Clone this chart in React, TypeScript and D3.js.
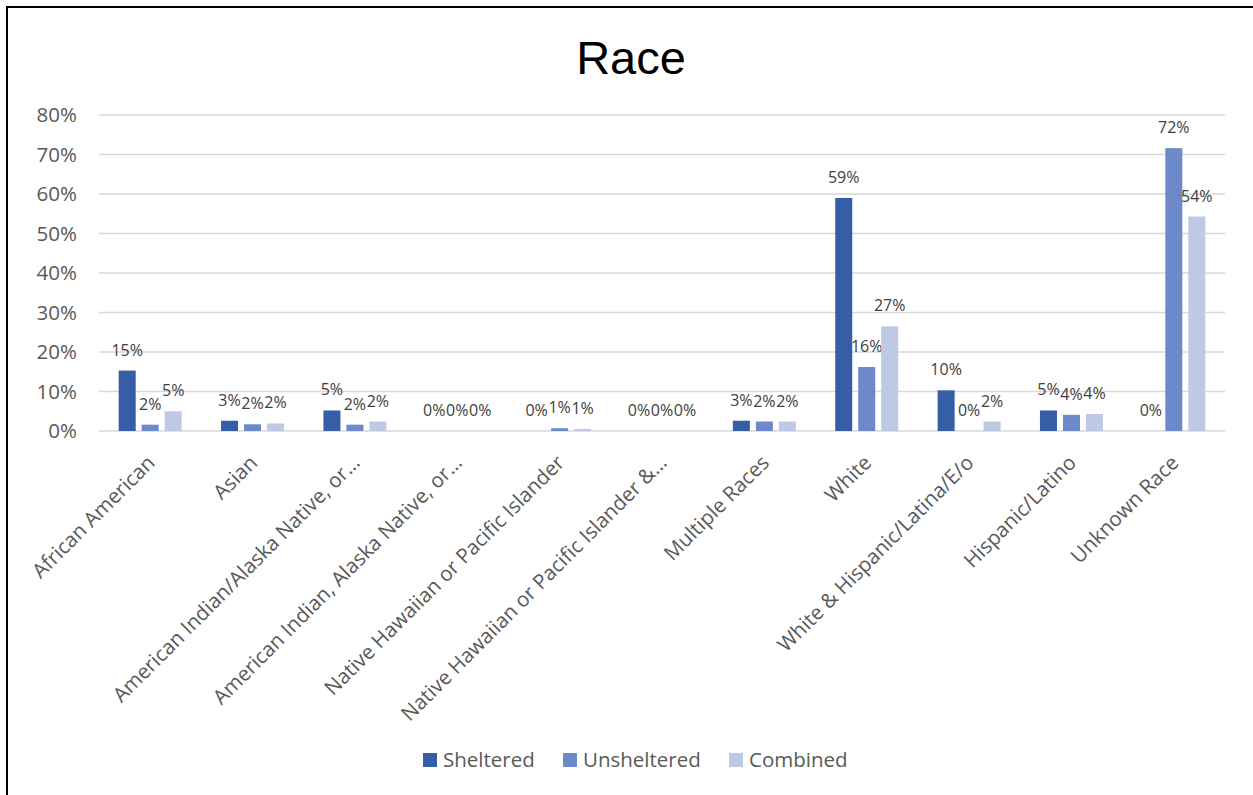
import React from "react";
import * as d3 from "d3";

const categories = [
  "African American",
  "Asian",
  "American Indian/Alaska Native, or…",
  "American Indian, Alaska Native, or…",
  "Native Hawaiian or Pacific Islander",
  "Native Hawaiian or Pacific Islander &…",
  "Multiple Races",
  "White",
  "White & Hispanic/Latina/E/o",
  "Hispanic/Latino",
  "Unknown Race",
];
const seriesNames = ["Sheltered", "Unsheltered", "Combined"];
const sheltered = [15.3, 2.6, 5.2, 0, 0, 0, 2.6, 59.0, 10.3, 5.2, 0];
const unsheltered = [1.6, 1.7, 1.6, 0, 0.7, 0, 2.4, 16.2, 0, 4.1, 71.6];
const combined = [5.0, 1.9, 2.4, 0, 0.5, 0, 2.4, 26.5, 2.4, 4.3, 54.3];
const yTicks = [0, 10, 20, 30, 40, 50, 60, 70, 80];
const colors = ["#365EA7", "#6D89C9", "#BEC9E4"];

const W = 1253;
const H = 795;
const plotLeft = 99;
const plotRight = 1225;
const plotTop = 115;
const plotBottom = 431;

export default function App() {
  const values = [sheltered, unsheltered, combined];
  const x0 = d3.scaleBand<string>().domain(categories).range([plotLeft, plotRight]).paddingInner(0).paddingOuter(0);
  const groupW = 63;
  const x1 = d3.scaleBand<string>().domain(seriesNames).range([0, groupW]).paddingInner(0.26).paddingOuter(0);
  const y = d3.scaleLinear().domain([0, 80]).range([plotBottom, plotTop]);
  const offset = (x0.bandwidth() - groupW) / 2;
  const fmt = (v: number) => `${Math.round(v)}%`;
  const legendX = [423, 563, 729];

  return (
    <svg width={W} height={H} style={{ position: "absolute", left: 0, top: 0, background: "#fff" }}>
      <rect x={0} y={0} width={W} height={H} fill="#fff" />
      <path d={`M7,${H} V7 H${W}`} fill="none" stroke="#000" strokeWidth={2} />
      <text x={631} y={74} textAnchor="middle" fontFamily="Liberation Sans, Arial, sans-serif" fontSize={47} fill="#000">
        Race
      </text>
      {yTicks.map((t) => (
        <g key={t}>
          <line x1={plotLeft} x2={plotRight} y1={y(t)} y2={y(t)} stroke="#D9D9D9" strokeWidth={1.5} />
          <text x={77} y={y(t)} dy="0.35em" textAnchor="end" fontFamily="Open Sans, sans-serif" fontSize={20.5} fill="#595959">
            {t}%
          </text>
        </g>
      ))}
      {categories.map((c, ci) => (
        <g key={c}>
          {seriesNames.map((s, si) => {
            const v = values[si][ci];
            const bx = (x0(c) as number) + offset + (x1(s) as number);
            const bw = x1.bandwidth();
            return (
              <g key={s}>
                {v > 0 && <rect x={bx} y={y(v)} width={bw} height={plotBottom - y(v)} fill={colors[si]} />}
                <text x={bx + bw / 2} y={y(v) - 15} textAnchor="middle" fontFamily="Open Sans, sans-serif" fontSize={16} fill="#404040">
                  {fmt(v)}
                </text>
              </g>
            );
          })}
          <text
            transform={`translate(${(x0(c) as number) + x0.bandwidth() / 2 + 6},${plotBottom + 33}) rotate(-45)`}
            textAnchor="end"
            fontFamily="Open Sans, sans-serif"
            fontSize={20.5}
            fill="#595959"
          >
            {c}
          </text>
        </g>
      ))}
      {seriesNames.map((s, si) => (
        <g key={s}>
          <rect x={legendX[si]} y={753} width={14} height={14} fill={colors[si]} />
          <text x={legendX[si] + 20} y={760} dy="0.35em" fontFamily="Open Sans, sans-serif" fontSize={20.5} fill="#595959">
            {s}
          </text>
        </g>
      ))}
    </svg>
  );
}
